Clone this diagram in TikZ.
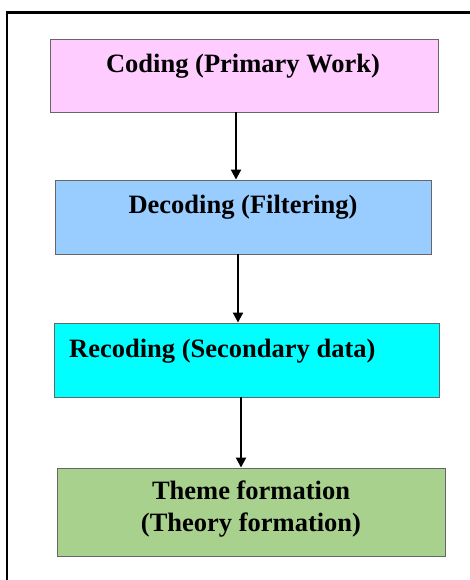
\documentclass[tikz,border=0pt]{standalone}
\usepackage{fontspec}
\setmainfont{Liberation Serif}
\usetikzlibrary{arrows.meta,shadows}
\definecolor{cpink}{HTML}{FFCCFF}
\definecolor{cblue}{HTML}{99CCFF}
\definecolor{ccyan}{HTML}{00FFFF}
\definecolor{cgreen}{HTML}{A9D18E}
\definecolor{cedge}{HTML}{666666}
\begin{document}
\begin{tikzpicture}[x=1pt,y=-1pt,
  box/.style={draw=cedge,line width=0.9pt,rectangle,inner sep=0pt,
    drop shadow={shadow xshift=1.2pt,shadow yshift=-1.2pt,fill=black!45,opacity=1}},
  lbl/.style={inner sep=0pt,font=\fontsize{26.5}{32}\selectfont\bfseries,align=center},
  arr/.style={line width=2pt,-{Triangle[width=10pt,length=10pt]}}]
\useasboundingbox (0,0) rectangle (470,580);
\begin{scope}
\clip (0,0) rectangle (470,580);
\draw[line width=2.6pt] (7,12.5) -- (490,12.5);
\draw[line width=2.6pt] (7,11.2) -- (7,600);
\end{scope}
\node[box,fill=cpink,minimum width=388pt,minimum height=73pt] (b1) at (244,75.5) {};
\node[box,fill=cblue,minimum width=376pt,minimum height=74pt] (b2) at (243,217) {};
\node[box,fill=ccyan,minimum width=385pt,minimum height=74pt] (b3) at (246.5,360) {};
\node[box,fill=cgreen,minimum width=388pt,minimum height=88pt] (b4) at (251,512) {};
\node[lbl] (t1) at (243,66) {Coding (Primary Work)};
\node[lbl] (t2) at (243,207) {Decoding (Filtering)};
\node[lbl,anchor=west] (t3) at (69,351) {Recoding (Secondary data)};
\node[lbl] (t4) at (251,509) {Theme formation\\(Theory formation)};
\draw[arr] ([xshift=-8pt]b1.south) -- ([xshift=-8pt]b1.south |- b2.north);
\draw[arr] ([xshift=-5pt]b2.south) -- ([xshift=-5pt]b2.south |- b3.north);
\draw[arr] ([xshift=-5.5pt]b3.south) -- ([xshift=-5.5pt]b3.south |- b4.north);
\end{tikzpicture}
\end{document}
